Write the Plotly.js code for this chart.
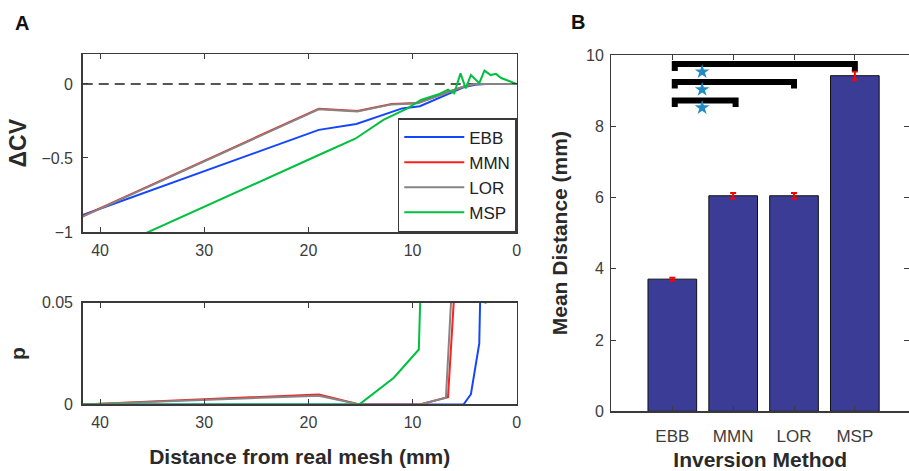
<!DOCTYPE html>
<html>
<head>
<meta charset="utf-8">
<script src="https://cdn.plot.ly/plotly-3.0.1.min.js"></script>
<style>html,body{margin:0;padding:0;background:#fff;}#chart{width:909px;height:471px;}</style>
</head>
<body>
<div id="chart"></div>
<script>
// ---- Panel A (top): ΔCV vs distance from real mesh ----
const seriesNames = ["EBB", "MMN", "LOR", "MSP"];
const seriesColors = ["#1446ff", "#ff1f1f", "#858585", "#00c040"];

const cvEBB_x = [41.66, 19.0, 15.4, 11.0, 9.3, 8.0, 6.4, 5.0, 4.0, 3.0, 0];
const cvEBB_y = [-0.885, -0.31, -0.27, -0.165, -0.15, -0.11, -0.06, -0.02, -0.006, 0, 0];
const cvMMN_x = [41.66, 19.0, 15.3, 12.0, 9.5, 8.0, 6.4, 5.0, 4.0, 0];
const cvMMN_y = [-0.893, -0.167, -0.183, -0.136, -0.129, -0.089, -0.049, -0.015, 0, 0];
const cvLOR_x = [41.66, 19.0, 15.3, 12.0, 9.5, 8.0, 6.4, 5.0, 4.0, 0];
const cvLOR_y = [-0.896, -0.171, -0.186, -0.138, -0.131, -0.091, -0.051, -0.016, -0.001, 0];
const cvMSP_x = [41.66, 35.4, 19.0, 15.5, 12.8, 10.5, 9.2, 7.5, 6.6, 6.0, 5.4, 4.9, 4.4, 3.6, 3.1, 2.5, 2.0, 1.5, 0];
const cvMSP_y = [-1.2, -1.0, -0.48, -0.37, -0.243, -0.165, -0.108, -0.07, -0.038, -0.063, 0.072, -0.03, 0.06, 0.005, 0.09, 0.06, 0.068, 0.04, 0];

// ---- Panel A (bottom): p value vs distance ----
const pEBB_x = [41.66, 9.5, 5.1, 4.4, 3.6, 3.4, 2.5];
const pEBB_y = [0, 0, 0, 0.005, 0.03, 0.08, 0.3];
const pMMN_x = [41.66, 19.0, 15.1, 9.3, 6.6, 5.7, 4.5];
const pMMN_y = [0, 0.0049, 0, 0, 0.0035, 0.08, 0.3];
const pLOR_x = [41.66, 19.0, 15.1, 9.3, 6.8, 6.0, 4.8];
const pLOR_y = [0, 0.0043, 0, 0, 0.0033, 0.08, 0.3];
const pMSP_x = [41.66, 15.1, 11.8, 9.4, 9.0, 6.0, 3.3, 3.0, 2.7];
const pMSP_y = [0, 0, 0.0131, 0.027, 0.1, 0.4, 0.12, 0.0495, 0.12];

// ---- Panel B: mean distance per inversion method ----
const methods = ["EBB", "MMN", "LOR", "MSP"];
const methodPos = [1, 2, 3, 4];
const meanDist = [3.71, 6.05, 6.05, 9.42];
const meanErr = [0.04, 0.08, 0.08, 0.12];
// significance brackets (EBB vs MSP, EBB vs LOR, EBB vs MMN)
const bracketLeft = 1.04;
const bracketRight = [4.0, 3.0, 2.04];
const bracketTop = [9.75, 9.24, 8.72];
const bracketFoot = [9.55, 9.06, 8.54];
const starX = [1.49, 1.49, 1.49];
const starY = [9.53, 9.03, 8.52];

const cvX = [cvEBB_x, cvMMN_x, cvLOR_x, cvMSP_x];
const cvY = [cvEBB_y, cvMMN_y, cvLOR_y, cvMSP_y];
const pX = [pEBB_x, pMMN_x, pLOR_x, pMSP_x];
const pY = [pEBB_y, pMMN_y, pLOR_y, pMSP_y];

const traces = [];
for (let i = 0; i < 4; i++) {
  traces.push({
    type: "scatter", mode: "lines", x: cvX[i], y: cvY[i], name: seriesNames[i],
    line: {color: seriesColors[i], width: 2}, xaxis: "x", yaxis: "y", cliponaxis: true
  });
}
for (let i = 0; i < 4; i++) {
  traces.push({
    type: "scatter", mode: "lines", x: pX[i], y: pY[i], name: seriesNames[i],
    line: {color: seriesColors[i], width: 2}, xaxis: "x2", yaxis: "y2", showlegend: false
  });
}
traces.push({
  type: "bar", x: methodPos, y: meanDist, xaxis: "x3", yaxis: "y3", width: 0.8,
  marker: {color: "#3b3c95", line: {color: "#111", width: 1}},
  error_y: {type: "data", array: meanErr, visible: true, color: "#ff0000", thickness: 2, width: 3},
  showlegend: false
});
for (let k = 0; k < bracketRight.length; k++) {
  traces.push({
    type: "scatter", mode: "lines", xaxis: "x3", yaxis: "y3", showlegend: false,
    x: [bracketLeft, bracketLeft, bracketRight[k], bracketRight[k]],
    y: [bracketFoot[k], bracketTop[k], bracketTop[k], bracketFoot[k]],
    line: {color: "#000", width: 6}
  });
}
traces.push({
  type: "scatter", mode: "markers", x: starX, y: starY, xaxis: "x3", yaxis: "y3", showlegend: false,
  marker: {symbol: "star", size: 11, color: "#218cc4", line: {width: 0}}
});

const FAM = "Liberation Sans, Arial, sans-serif";
const tickFont = {family: FAM, size: 16, color: "#3c3c3c"};
const titleFont = {family: FAM, size: 21, color: "#2a2a2a", weight: "bold"};
const axBase = {
  showline: true, linecolor: "#3a3a3a", linewidth: 1.5, mirror: "ticks",
  ticks: "inside", ticklen: 5, tickcolor: "#3a3a3a", tickwidth: 1,
  showgrid: false, zeroline: false, tickfont: tickFont
};

const layout = {
  width: 909, height: 471,
  margin: {l: 0, r: 0, t: 0, b: 0},
  paper_bgcolor: "#fff", plot_bgcolor: "#fff",
  showlegend: true,
  legend: {
    x: 0.5685, xanchor: "right", y: 0.5074, yanchor: "bottom",
    bgcolor: "#fff", bordercolor: "#3a3a3a", borderwidth: 1.5,
    font: {family: FAM, size: 17, color: "#222"},
    itemwidth: 60
  },
  xaxis: Object.assign({}, axBase, {
    domain: [0.091, 0.5685], range: [41.66, 0], tickvals: [40, 30, 20, 10, 0], anchor: "y",
    ticklabelstandoff: 3
  }),
  yaxis: Object.assign({}, axBase, {
    domain: [0.5074, 0.8846], range: [-1, 0.2], tickvals: [0, -0.5, -1], anchor: "x",
    ticklabelstandoff: 5,
    title: {text: "ΔCV", font: Object.assign({}, titleFont, {size: 23}), standoff: 8}
  }),
  xaxis2: Object.assign({}, axBase, {
    domain: [0.091, 0.5685], range: [41.66, 0], tickvals: [40, 30, 20, 10, 0], anchor: "y2",
    ticklabelstandoff: 3,
    title: {text: "Distance from real mesh (mm)", font: titleFont, standoff: 19}
  }),
  yaxis2: Object.assign({}, axBase, {
    domain: [0.1414, 0.3573], range: [0, 0.05], tickvals: [0, 0.05], ticktext: ["0", "0.05"], anchor: "x2",
    ticklabelstandoff: 5,
    title: {text: "p", font: titleFont, standoff: 10}
  }),
  xaxis3: Object.assign({}, axBase, {
    domain: [0.6727, 1], range: [0, 4.89], tickvals: methodPos, ticktext: methods, anchor: "y3",
    ticklabelstandoff: 9,
    tickfont: Object.assign({}, tickFont, {size: 17}),
    title: {text: "Inversion Method", font: Object.assign({}, titleFont, {size: 21}), standoff: 9}
  }),
  yaxis3: Object.assign({}, axBase, {
    domain: [0.1267, 0.8832], range: [0, 10], tickvals: [0, 2, 4, 6, 8, 10], anchor: "x3",
    ticklabelstandoff: 3,
    title: {text: "Mean Distance (mm)", font: titleFont, standoff: 12}
  }),
  shapes: [{
    type: "line", xref: "x domain", yref: "y", x0: 0, x1: 1, y0: 0, y1: 0,
    line: {color: "#555", width: 2, dash: "10px,6px"}, layer: "below"
  }],
  annotations: [
    {text: "<b>A</b>", xref: "paper", yref: "paper", x: 22 / 909, y: 1 - 23 / 471, xanchor: "center", yanchor: "middle",
     showarrow: false, font: {family: FAM, size: 20, color: "#111"}},
    {text: "<b>B</b>", xref: "paper", yref: "paper", x: 578 / 909, y: 1 - 22 / 471, xanchor: "center", yanchor: "middle",
     showarrow: false, font: {family: FAM, size: 20, color: "#111"}}
  ]
};

Plotly.newPlot("chart", traces, layout, {displayModeBar: false, staticPlot: true});
</script>
</body>
</html>
